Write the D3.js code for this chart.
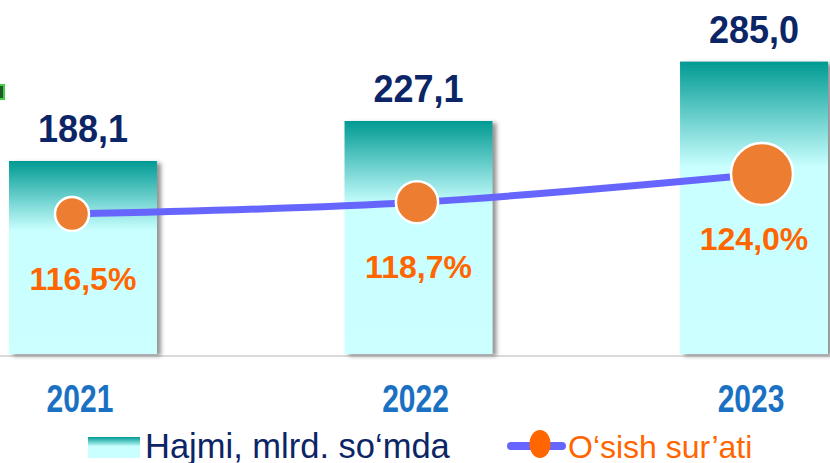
<!DOCTYPE html>
<html>
<head>
<meta charset="utf-8">
<script src="https://cdn.jsdelivr.net/npm/d3@7"></script>
<style>
  html, body { margin: 0; padding: 0; background: #fff; }
  svg { display: block; font-family: "Liberation Sans", Arial, sans-serif; }
</style>
</head>
<body>
<svg id="chart" width="830" height="463"></svg>
<script>
// data
const years = ['2021', '2022', '2023'];
const volume = [188.1, 227.1, 285.0];
const growth = [116.5, 118.7, 124.0];
const volumeLabels = ['188,1', '227,1', '285,0'];
const growthLabels = ['116,5%', '118,7%', '124,0%'];
const legendNames = ['Hajmi, mlrd. so\u2018mda', 'O\u2018sish sur\u2019ati'];

const width = 830;
const height = 463;
const baseY = 354;

const svg = d3.select('#chart');
const defs = svg.append('defs');

const grad = defs.append('linearGradient')
  .attr('id', 'barGrad')
  .attr('x1', 0).attr('y1', 0).attr('x2', 0).attr('y2', 1);
grad.append('stop').attr('offset', 0).attr('stop-color', '#009a93');
grad.append('stop').attr('offset', 0.36).attr('stop-color', '#c9ffff');
grad.append('stop').attr('offset', 1).attr('stop-color', '#ccffff');

const legGrad = defs.append('linearGradient')
  .attr('id', 'legGrad')
  .attr('x1', 0).attr('y1', 0).attr('x2', 0).attr('y2', 1);
legGrad.append('stop').attr('offset', 0).attr('stop-color', '#009a93');
legGrad.append('stop').attr('offset', 0.45).attr('stop-color', '#c9ffff');
legGrad.append('stop').attr('offset', 1).attr('stop-color', '#ccffff');

const shadow = defs.append('filter')
  .attr('id', 'shadow')
  .attr('x', '-10%').attr('y', '-10%').attr('width', '130%').attr('height', '130%');
shadow.append('feDropShadow')
  .attr('dx', 4).attr('dy', 2)
  .attr('stdDeviation', 2)
  .attr('flood-color', '#777')
  .attr('flood-opacity', 0.8);

const x = d3.scaleBand()
  .domain(years)
  .range([9, 828])
  .paddingInner(0.559)
  .paddingOuter(0);

// the line series sits on its own slightly wider category axis
const xLine = d3.scalePoint()
  .domain(years)
  .range([72, 762]);

const y = d3.scaleLinear()
  .domain([0, 300])
  .range([baseY, baseY - 300 * 1.026]);

// growth rate on a hidden secondary axis
const yRate = d3.scaleLinear()
  .domain([100, 130])
  .range([302, 142]);

const rSize = d3.scaleLinear()
  .domain([116.5, 124])
  .range([17, 31]);

const cx = d => x(d) + x.bandwidth() / 2;

// small green mark at the left edge
svg.append('rect')
  .attr('x', -2).attr('y', 85).attr('width', 6).attr('height', 14)
  .attr('fill', '#1f5a2a').attr('stroke', '#44d044').attr('stroke-width', 2);

// axis line
svg.append('line')
  .attr('x1', 0).attr('x2', width)
  .attr('y1', baseY + 2).attr('y2', baseY + 2)
  .attr('stroke', '#d9d9d9').attr('stroke-width', 2);

// bars
svg.append('g')
  .selectAll('rect')
  .data(years)
  .join('rect')
  .attr('x', d => x(d))
  .attr('width', x.bandwidth())
  .attr('y', (d, i) => y(volume[i]))
  .attr('height', (d, i) => y(0) - y(volume[i]))
  .attr('fill', 'url(#barGrad)')
  .attr('filter', 'url(#shadow)');

// value labels
svg.append('g')
  .selectAll('text')
  .data(years)
  .join('text')
  .attr('transform', (d, i) => `translate(${cx(d)},${y(volume[i]) - 19}) scale(1,1.08)`)
  .attr('text-anchor', 'middle')
  .attr('font-size', 36)
  .attr('font-weight', 'bold')
  .attr('fill', '#0c2566')
  .text((d, i) => volumeLabels[i]);

// growth line
const line = d3.line()
  .x((d, i) => xLine(years[i]))
  .y(d => yRate(d))
  .curve(d3.curveMonotoneX);

svg.append('path')
  .datum(growth)
  .attr('d', line)
  .attr('fill', 'none')
  .attr('stroke', '#6666ff')
  .attr('stroke-width', 7);

svg.append('g')
  .selectAll('circle')
  .data(growth)
  .join('circle')
  .attr('cx', (d, i) => xLine(years[i]))
  .attr('cy', d => yRate(d))
  .attr('r', d => rSize(d))
  .attr('fill', '#ed7d31')
  .attr('stroke', '#fff')
  .attr('stroke-width', 2.5);

// growth labels
svg.append('g')
  .selectAll('text')
  .data(growth)
  .join('text')
  .attr('x', (d, i) => cx(years[i]))
  .attr('y', d => yRate(d) + 76)
  .attr('text-anchor', 'middle')
  .attr('font-size', 32)
  .attr('font-weight', 'bold')
  .attr('fill', '#ff6600')
  .text((d, i) => growthLabels[i]);

// year axis labels
svg.append('g')
  .selectAll('text')
  .data(years)
  .join('text')
  .attr('transform', d => `translate(${cx(d) - 3},412) scale(1,1.28)`)
  .attr('text-anchor', 'middle')
  .attr('font-size', 30)
  .attr('font-weight', 'bold')
  .attr('fill', '#1a70c2')
  .text(d => d);

// legend
const leg = svg.append('g');
leg.append('rect')
  .attr('x', 88).attr('y', 437).attr('width', 52).attr('height', 21)
  .attr('fill', 'url(#legGrad)');
leg.append('text')
  .attr('x', 145).attr('y', 458)
  .attr('font-size', 34.5)
  .attr('fill', '#0c2566')
  .text(legendNames[0]);

leg.append('line')
  .attr('x1', 511).attr('x2', 562)
  .attr('y1', 446).attr('y2', 446)
  .attr('stroke', '#6666ff').attr('stroke-width', 8)
  .attr('stroke-linecap', 'round');
leg.append('ellipse')
  .attr('cx', 540).attr('cy', 444).attr('rx', 10.5).attr('ry', 14)
  .attr('fill', '#ff6600');
leg.append('text')
  .attr('x', 568).attr('y', 458)
  .attr('font-size', 32)
  .attr('fill', '#ff6600')
  .text(legendNames[1]);
</script>
</body>
</html>
